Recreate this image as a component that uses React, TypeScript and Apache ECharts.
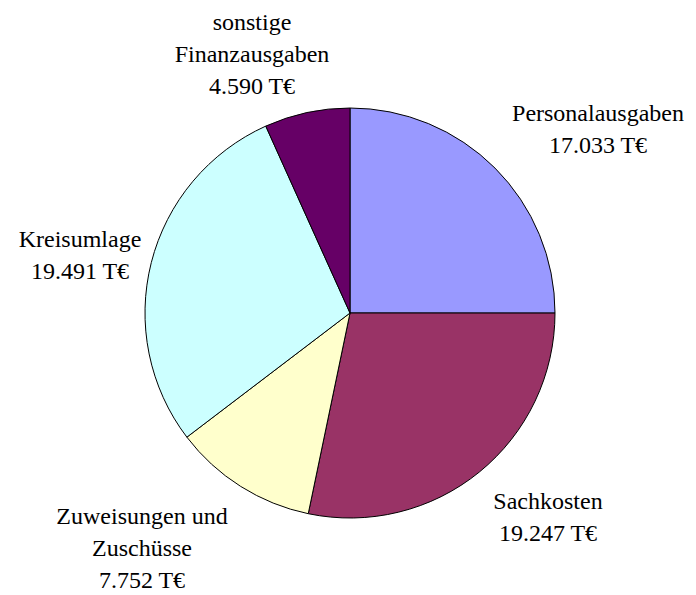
import React, { useEffect, useRef } from "react";
import * as echarts from "echarts";

const categories = [
  "Personalausgaben",
  "Sachkosten",
  "Zuweisungen und\nZuschüsse",
  "Kreisumlage",
  "sonstige\nFinanzausgaben",
];
const values = [17033, 19247, 7752, 19491, 4590];
const valueLabels = ["17.033 T€", "19.247 T€", "7.752 T€", "19.491 T€", "4.590 T€"];
const colors = ["#9999FF", "#993366", "#FFFFCC", "#CCFFFF", "#660066"];

// label block centres (layout only)
const labelPos = [
  [598, 129],
  [548, 517],
  [142, 548],
  [80, 255],
  [252, 54],
];

export default function App() {
  const ref = useRef<HTMLDivElement>(null);
  useEffect(() => {
    document.body.style.margin = "0";
    const chart = echarts.init(ref.current!, null, { renderer: "svg" });
    chart.setOption({
      animation: false,
      backgroundColor: "#ffffff",
      series: [
        {
          type: "pie",
          center: [350, 313],
          radius: 205,
          startAngle: 90,
          clockwise: true,
          avoidLabelOverlap: false,
          data: categories.map((c, i) => ({
            name: c,
            value: values[i],
            itemStyle: { color: colors[i] },
          })),
          itemStyle: { borderColor: "#000", borderWidth: 1 },
          label: {
            show: true,
            position: "outside",
            formatter: (p: any) => `${p.name}\n${valueLabels[p.dataIndex]}`,
            fontFamily: "Liberation Serif",
            fontSize: 24,
            lineHeight: 32,
            color: "#000",
            align: "center",
            overflow: "none",
            width: 300,
          },
          labelLine: { show: false },
          labelLayout: (params: any) => ({
            x: labelPos[params.dataIndex][0],
            y: labelPos[params.dataIndex][1],
            align: "center",
            verticalAlign: "middle",
          }),
          emphasis: { disabled: true },
        },
      ],
    });
    return () => chart.dispose();
  }, []);
  return <div ref={ref} style={{ width: 696, height: 595 }} />;
}
